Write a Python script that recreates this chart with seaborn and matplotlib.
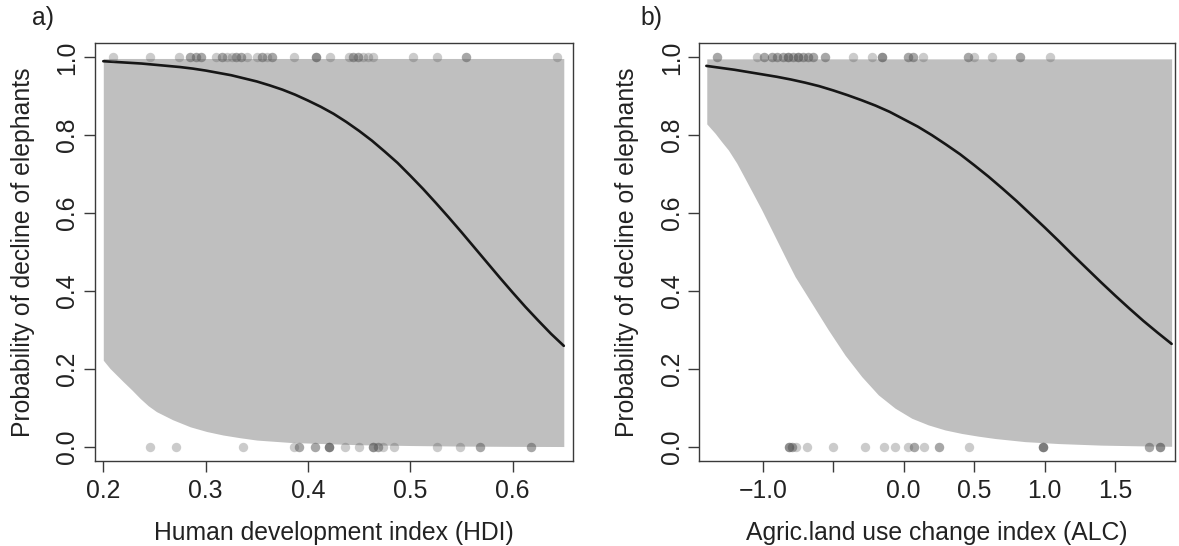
import numpy as np
import pandas as pd
import matplotlib
matplotlib.use("Agg")
import matplotlib.pyplot as plt
import seaborn as sns

# ---------------- data ----------------
# Panel a: HDI
hdi_curve_x = [0.2000, 0.2125, 0.2250, 0.2375, 0.2500, 0.2625, 0.2750, 0.2875, 0.3000,
               0.3125, 0.3250, 0.3375, 0.3500, 0.3625, 0.3750, 0.3875, 0.4000, 0.4125,
               0.4250, 0.4375, 0.4500, 0.4625, 0.4750, 0.4875, 0.5000, 0.5125, 0.5250,
               0.5375, 0.5500, 0.5625, 0.5750, 0.5875, 0.6000, 0.6125, 0.6250, 0.6375,
               0.6500]
hdi_curve_p = [0.990, 0.988, 0.986, 0.984, 0.981, 0.978, 0.975, 0.971, 0.966,
               0.960, 0.954, 0.946, 0.938, 0.928, 0.917, 0.904, 0.889, 0.873,
               0.855, 0.834, 0.811, 0.786, 0.758, 0.729, 0.696, 0.662, 0.626,
               0.589, 0.551, 0.512, 0.473, 0.434, 0.396, 0.359, 0.324, 0.290,
               0.259]
hdi_band_x = [0.2000, 0.2065, 0.2130, 0.2195, 0.2278, 0.2360, 0.2440, 0.2520, 0.2680,
              0.2850, 0.3010, 0.3170, 0.3336, 0.3500, 0.3820, 0.4150, 0.4500, 0.5000,
              0.5500, 0.6000, 0.6500]
hdi_band_low = [0.222, 0.201, 0.184, 0.167, 0.146, 0.124, 0.105, 0.090, 0.069,
                0.051, 0.039, 0.030, 0.023, 0.017, 0.011, 0.008, 0.005, 0.003,
                0.0015, 0.0008, 0.0004]
hdi_band_high = 0.997

hdi_top_x = [0.209, 0.246, 0.274, 0.285, 0.291, 0.295, 0.310, 0.316, 0.321, 0.326,
             0.330, 0.335, 0.340, 0.350, 0.355, 0.360, 0.365, 0.386, 0.408, 0.422,
             0.440, 0.444, 0.449, 0.454, 0.459, 0.464, 0.503, 0.526, 0.554, 0.643]
hdi_top_n = [1, 1, 1, 2, 2, 2, 1, 2, 1, 1,
             2, 2, 1, 1, 2, 1, 2, 1, 3, 1,
             1, 2, 2, 1, 1, 1, 1, 1, 2, 1]
hdi_bot_x = [0.246, 0.271, 0.337, 0.386, 0.391, 0.407, 0.421, 0.436, 0.450, 0.464,
             0.468, 0.473, 0.484, 0.526, 0.549, 0.568, 0.618]
hdi_bot_n = [1, 1, 1, 1, 2, 2, 4, 1, 1, 3,
             2, 1, 1, 1, 1, 2, 2]

# Panel b: ALC
alc_curve_x = [-1.4, -1.3, -1.2, -1.1, -1.0, -0.9, -0.8, -0.7, -0.6, -0.5, -0.4, -0.3,
               -0.2, -0.1, 0.0, 0.1, 0.2, 0.3, 0.4, 0.5, 0.6, 0.7, 0.8, 0.9, 1.0, 1.1,
               1.2, 1.3, 1.4, 1.5, 1.6, 1.7, 1.8, 1.9]
alc_curve_p = [0.978, 0.973, 0.968, 0.962, 0.956, 0.950, 0.943, 0.935, 0.926, 0.915,
               0.903, 0.890, 0.876, 0.860, 0.841, 0.822, 0.800, 0.776, 0.751, 0.723,
               0.694, 0.663, 0.631, 0.597, 0.563, 0.528, 0.492, 0.457, 0.422, 0.388,
               0.355, 0.323, 0.293, 0.264]
alc_band_x = [-1.397, -1.338, -1.291, -1.244, -1.184, -1.126, -1.067, -1.007, -0.948,
              -0.889, -0.830, -0.771, -0.652, -0.535, -0.416, -0.298, -0.180, -0.062,
              0.057, 0.174, 0.293, 0.411, 0.529, 0.648, 0.860, 1.100, 1.400, 1.700,
              1.900]
alc_band_low = [0.829, 0.805, 0.783, 0.762, 0.728, 0.689, 0.649, 0.608, 0.565,
                0.522, 0.479, 0.437, 0.368, 0.300, 0.235, 0.180, 0.133, 0.099,
                0.073, 0.056, 0.043, 0.034, 0.027, 0.021, 0.013, 0.008, 0.004,
                0.002, 0.001]
alc_band_high = 0.996

alc_top_x = [-1.322, -1.043, -0.991, -0.936, -0.896, -0.854, -0.818, -0.783, -0.748,
             -0.712, -0.677, -0.641, -0.558, -0.357, -0.227, -0.156, 0.033, 0.064,
             0.139, 0.458, 0.499, 0.624, 0.825, 1.038]
alc_top_n = [2, 1, 2, 2, 2, 2, 3, 2, 3,
             2, 2, 2, 2, 1, 1, 3, 2, 2,
             1, 2, 1, 1, 2, 1]
alc_bot_x = [-0.811, -0.795, -0.764, -0.688, -0.499, -0.274, -0.140, -0.062, 0.033,
             0.073, 0.146, 0.253, 0.465, 0.986, 1.742, 1.818]
alc_bot_n = [3, 2, 1, 1, 1, 1, 1, 1, 1,
             2, 1, 2, 1, 4, 2, 3]

hdi_ticks = [0.2, 0.3, 0.4, 0.5, 0.6]
hdi_ticklabels = ["0.2", "0.3", "0.4", "0.5", "0.6"]
alc_ticks = [-1.0, -0.5, 0.0, 0.5, 1.0, 1.5]
alc_ticklabels = ["\u22121.0", "", "0.0", "0.5", "1.0", "1.5"]
y_ticks = [0.0, 0.2, 0.4, 0.6, 0.8, 1.0]
y_ticklabels = ["0.0", "0.2", "0.4", "0.6", "0.8", "1.0"]

ylabel = "Probability of decline of elephants"
xlabel_a = "Human development index (HDI)"
xlabel_b = "Agric.land use change index (ALC)"

# ---------------- style ----------------
sns.set_theme(style="white")
plt.rcParams["font.family"] = ["Liberation Sans", "DejaVu Sans"]
TXT = "#222222"
SPINE = "#3a3a3a"
BAND = "#bfbfbf"
PT = "#555555"
FS = 17.8

fig = plt.figure(figsize=(11.79, 5.46), dpi=100)
W, H = 1179.0, 546.0


def panel(left_px, right_px, xlim, cx, cp, bx, blow, bhigh, tx, tn, bx0, bn,
          xticks, xticklabels, xlabel, tag, tag_x):
    top_px, bot_px = 43.3, 460.7
    ax = fig.add_axes([left_px / W, 1 - bot_px / H, (right_px - left_px) / W,
                       (bot_px - top_px) / H])
    ax.fill_between(bx, blow, bhigh, color=BAND, linewidth=0, zorder=1)
    sns.lineplot(x=cx, y=cp, ax=ax, color="#161616", linewidth=1.9,
                 estimator=None, sort=True, zorder=2)
    top_df = pd.DataFrame({"x": np.repeat(tx, tn), "y": 1.0})
    bot_df = pd.DataFrame({"x": np.repeat(bx0, bn), "y": 0.0})
    obs = pd.concat([top_df, bot_df], ignore_index=True)
    sns.scatterplot(data=obs, x="x", y="y", ax=ax, color=PT, alpha=0.3, s=46,
                    linewidth=0, zorder=3)
    ax.set_xlim(*xlim)
    ax.set_ylim(-0.036, 1.036)
    ax.set_xticks(xticks)
    ax.set_xticklabels(xticklabels)
    ax.set_yticks(y_ticks)
    ax.set_yticklabels(y_ticklabels, rotation=90, va="center")
    ax.tick_params(axis="both", which="major", direction="out", length=8,
                   width=1.0, color=SPINE, labelsize=FS, labelcolor=TXT,
                   bottom=True, left=True)
    ax.tick_params(axis="x", pad=5)
    ax.tick_params(axis="y", pad=3)
    for s in ax.spines.values():
        s.set_color(SPINE)
        s.set_linewidth(1.0)
        s.set_visible(True)
    ax.set_xlabel(xlabel, fontsize=FS, color=TXT, labelpad=13)
    ax.set_ylabel(ylabel, fontsize=FS, color=TXT, labelpad=15)
    ax.grid(False)
    fig.text(tag_x / W, 1 - 18 / H, tag, fontsize=FS, color=TXT,
             ha="center", va="center")
    return ax


panel(94.7, 573.0, (0.1916, 0.659), hdi_curve_x, hdi_curve_p, hdi_band_x,
      hdi_band_low, hdi_band_high, hdi_top_x, hdi_top_n, hdi_bot_x, hdi_bot_n,
      hdi_ticks, hdi_ticklabels, xlabel_a, "a)", 43)
panel(699.3, 1175.0, (-1.45, 1.924), alc_curve_x, alc_curve_p, alc_band_x,
      alc_band_low, alc_band_high, alc_top_x, alc_top_n, alc_bot_x, alc_bot_n,
      alc_ticks, alc_ticklabels, xlabel_b, "b)", 651)

fig.savefig("out.png", dpi=100)
